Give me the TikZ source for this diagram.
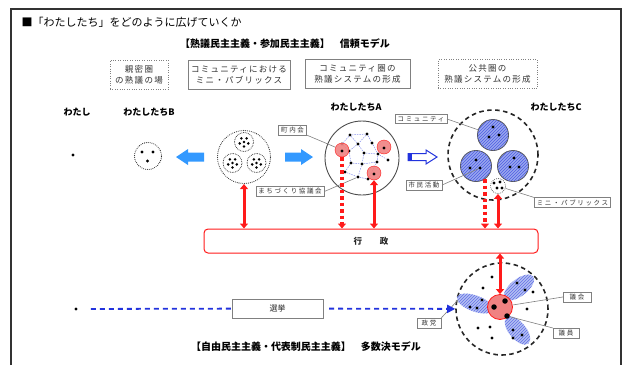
\documentclass[tikz,border=0pt]{standalone}
\usepackage{fontspec}
\setmainfont{Noto Sans CJK JP}
\newfontfamily\lblfont[LetterSpace=25]{Noto Sans CJK JP}
\newfontfamily\boxfont[LetterSpace=15]{Noto Sans CJK JP}
\usetikzlibrary{patterns,arrows.meta,calc}
\definecolor{arrblue}{HTML}{3399FF}
\definecolor{rred}{HTML}{FF1A1A}
\definecolor{hblue}{HTML}{2233DD}
\definecolor{pblue}{HTML}{B4C0F2}
\definecolor{cblue}{HTML}{9AA8EE}
\definecolor{pinkred}{HTML}{F08282}
\begin{document}
\begin{tikzpicture}[x=1pt,y=-1pt,
 dot/.style={circle,fill=black,inner sep=0pt,minimum size=3.2pt},
 sdot/.style={circle,fill=black,inner sep=0pt,minimum size=2.8pt},
 bdot/.style={circle,fill=black,inner sep=0pt,minimum size=5.5pt},
 dotcirc/.style={circle,draw=black!85,line width=1.1pt,dash pattern=on 0pt off 1.9pt,line cap=round,inner sep=0pt},
 dashcirc/.style={circle,draw=black!85,line width=1.6pt,dash pattern=on 4.5pt off 3.5pt,inner sep=0pt},
 topbox/.style={font=\boxfont\fontsize{8.5}{11}\selectfont,align=center,text=black!80,minimum height=29pt,inner sep=0pt},
 tag/.style={draw=gray,fill=white,font=\lblfont\fontsize{6.5}{7}\selectfont,text=black!80,inner xsep=2.5pt,inner ysep=1.8pt},
 leader/.style={draw=gray,line width=0.6pt},
 heading/.style={font=\bfseries\fontsize{10}{12}\selectfont},
 who/.style={font=\bfseries\fontsize{9}{11}\selectfont},
 redboth/.style={draw=rred,line width=3pt,{Triangle[length=5pt,width=8pt]}-{Triangle[length=5pt,width=8pt]}},
 reddot/.style={draw=rred,line width=3.5pt,dash pattern=on 3.5pt off 3pt,-{Triangle[length=5pt,width=8pt]}},
 netl/.style={draw=hblue!55,line width=0.5pt,dash pattern=on 1.5pt off 1pt},
 rcirc/.style={circle,draw=rred,fill=pinkred,fill opacity=0.9,inner sep=0pt,minimum size=14pt},
 bluedash/.style={draw=hblue,line width=1.8pt,dash pattern=on 5pt off 4pt},
 subc/.style={circle,minimum size=31pt,inner sep=0pt,fill=cblue,draw=black!65,line width=0.9pt,postaction={pattern=north east lines,pattern color=hblue!80}}
 ]
\useasboundingbox (0,0) rectangle (625,365);
% frame
\draw[black!80,line width=1.6pt] (11,365) -- (11,9) -- (621,9) -- (621,365);

% titles
\node[anchor=west,font=\fontsize{11}{13}\selectfont] (title) at (18,22) {■「わたしたち」をどのように広げていくか};
\node[heading] (h1) at (285,44) {【熟議民主主義・参加民主主義】　信頼モデル};
\node[heading] (h2) at (306,347) {【自由民主主義・代表制民主主義】　多数決モデル};

% top boxes
\node[topbox,draw=gray,dotted,minimum width=58pt] (b1) at (139,74.5) {親密圏\\の熟議の場};
\node[topbox,draw=gray,minimum width=102pt] (b2) at (239,74.5) {コミュニティにおける\\ミニ・パブリックス};
\node[topbox,draw=gray,minimum width=105pt] (b3) at (357.5,74) {コミュニティ圏の\\熟議システムの形成};
\node[topbox,draw=gray,dotted,minimum width=99pt] (b4) at (487.5,74) {公共圏の\\熟議システムの形成};

% who labels
\node[who] (lw) at (77,112) {わたし};
\node[who] (lb) at (149,112) {わたしたちB};
\node[who] (la) at (356,107) {わたしたちA};
\node[who] (lc) at (556,107) {わたしたちC};

% me
\node[dot] (me) at (73,155) {};

% B
\node[dotcirc,minimum size=27pt] (B) at (148,156) {};
\node[dot] at (142,152) {};
\node[dot] at (153,152) {};
\node[dot] at (147.5,161) {};

% cluster
\node[dotcirc,minimum size=53pt] (cl) at (244,157) {};
\foreach \cx/\cy [count=\i] in {244/142, 232.5/163, 256.5/163}{
  \node[dotcirc,minimum size=19pt,line width=1pt,dash pattern=on 0pt off 1.7pt] (s\i) at (\cx,\cy) {};
  \node[sdot] at (\cx,\cy) {};
  \foreach \a in {90,162,234,306,18}{
    \node[sdot] at ($(\cx,\cy)+(\a:4.5)$) {};
  }
}

% blue arrows
\fill[arrblue] (204,152.5) -- (188,152.5) -- (188,149) -- (176,157) -- (188,165) -- (188,161.5) -- (204,161.5) -- cycle;
\fill[arrblue] (285,152.5) -- (301,152.5) -- (301,149) -- (313,157) -- (301,165) -- (301,161.5) -- (285,161.5) -- cycle;
\draw[hblue,fill=white,line width=1pt] (408,153.5) -- (426,153.5) -- (426,150) -- (437,157) -- (426,164) -- (426,160.5) -- (408,160.5) -- cycle;
\fill[hblue] (408,153.5) rectangle (412,160.5);

% A
\node[circle,draw=black!70,line width=0.9pt,minimum size=74pt,inner sep=0pt] (A) at (362,158) {};
\foreach \n/\px/\py in {n1/350/135, n2/367/134, n3/342/144, n4/358/144, n5/372/143, n6/349/151, n7/364/153, n8/378/154, n10/351/163, n11/362/164, n12/377/162, n13/345/172, n14/358/177, n15/368/179, n16/388/160}{
  \node[dot] (\n) at (\px,\py) {};
}
\foreach \u/\v in {n1/n2, n1/n3, n2/n5, n3/n6, n4/n7, n5/n8, n6/n10, n7/n11, n8/n12, n10/n13, n11/n14, n12/n15, n4/n6, n7/n8, n2/n4, n13/n14, n14/n15, n1/n4, n11/n12, n8/n16, n10/n11}{
  \draw[netl] (\u) -- (\v);
}
\node[rcirc] (r1) at (342,150) {};
\node[rcirc] (r2) at (384,147) {};
\node[rcirc] (r3) at (374,173) {};
\node[dot] at (342,151) {};
\node[dot] at (384,148) {};
\node[dot] at (374,174) {};

\node[tag] (tT) at (292.5,130) {町内会};
\node[tag] (tM) at (290,191.5) {まちづくり協議会};
\draw[leader] (tT.south east) -- (r1);
\draw[leader] (tM.east) -- (n14);

% C
\node[dashcirc,minimum size=90pt] (C) at (493,155) {};
\node[subc] (c1) at (493,135) {};
\node[subc] (c2) at (476,166) {};
\node[subc] (c3) at (513,166) {};
\foreach \px/\py in {493/127, 489/137, 499/135, 476/160, 470/168, 514/158, 510/167, 519/167}{
  \node[dot] at (\px,\py) {};
}
\node[dot] (c2b) at (480,168) {};
\node[dotcirc,minimum size=15pt,line width=0.9pt] (mp) at (498,186) {};
\foreach \px/\py in {494/183, 500/182, 497/188, 502/188}{
  \node[dot] at (\px,\py) {};
}
\coordinate (cdt) at (485,179);

\node[tag] (tK) at (421,119) {コミュニティ};
\node[tag] (tS) at (424,185) {市民活動};
\node[tag] (tP) at (572.5,202.5) {ミニ・パブリックス};
\draw[leader] (tK.east) -- (c1);
\draw[leader] (tS.east) -- (c2b);
\draw[leader] (mp) -- (tP.north west);

% gyosei
\node[draw=rred,rounded corners=4pt,line width=1pt,minimum width=334pt,minimum height=24pt,font=\bfseries\fontsize{8.5}{10}\selectfont,text=black!85] (gyo) at (371,241) {行\hspace{18pt}政};

% red arrows
\draw[redboth] (cl.south) -- (cl.south |- gyo.north);
\draw[reddot] (r1.south) -- (r1.south |- gyo.north);
\draw[redboth] (r3.south) -- (r3.south |- gyo.north);
\draw[reddot] (cdt) -- (cdt |- gyo.north);
\draw[redboth] (mp.south) -- (mp.south |- gyo.north);

% bottom
\node[dot] (me2) at (76,309) {};
\node[draw=gray,minimum width=91pt,minimum height=19pt,inner sep=0pt,font=\fontsize{8}{9}\selectfont,text=black!85] (senk) at (277.5,308.5) {選挙};

\node[dashcirc,minimum size=92pt] (F) at (502,309) {};
\begin{scope}[shift={(475,303.5)},rotate=-20]
 \path[fill=pblue,postaction={pattern=north east lines,pattern color=hblue!70}] (0,0) ellipse [x radius=19,y radius=8];
\end{scope}
\begin{scope}[shift={(519,287.5)},rotate=38]
 \path[fill=pblue,postaction={pattern=north east lines,pattern color=hblue!70}] (0,0) ellipse [x radius=18,y radius=8.5];
\end{scope}
\begin{scope}[shift={(517.5,330.5)},rotate=-50]
 \path[fill=pblue,postaction={pattern=north east lines,pattern color=hblue!70}] (0,0) ellipse [x radius=17,y radius=8.5];
\end{scope}
\coordinate (pl) at (458,300);
\foreach \px/\py in {483/288, 492/277, 517/283, 525/290, 533/292, 482/300, 470/307, 477/308, 527/309, 478/328, 490/327, 513/330, 522/335, 513/338, 492/338}{
  \node[dot] at (\px,\py) {};
}
\node[circle,draw=rred,fill=pinkred,inner sep=0pt,minimum size=25pt,line width=0.8pt] (Fr) at (500,307) {};
\node[bdot] (fd1) at (494,307) {};
\node[bdot] (fd2) at (505,301) {};
\node[bdot] (fd3) at (507,316) {};

\node[tag,minimum width=28pt] (tG) at (577,297) {議会};
\node[tag,minimum width=26pt] (tI) at (566,333) {議員};
\node[tag,minimum width=24pt] (tSe) at (429,323) {政党};
\draw[leader] (Fr) -- (tG.west);
\draw[leader] (fd3) -- (tI.north west);
\draw[leader] (tSe.north east) -- (pl);

\draw[bluedash,shorten <=13pt] (me2) -- (senk);
\draw[bluedash,shorten <=6pt,-{Triangle[length=8pt,width=8pt]}] (senk) -- (F);

\draw[redboth] (gyo.south -| Fr.north) -- (Fr.north);
\end{tikzpicture}
\end{document}
